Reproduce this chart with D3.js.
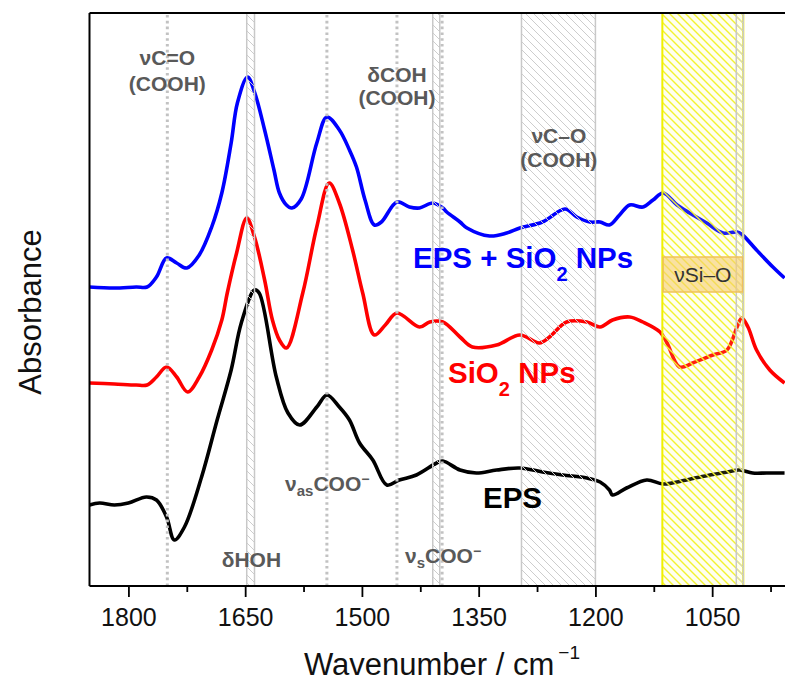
<!DOCTYPE html>
<html>
<head>
<meta charset="utf-8">
<script src="https://cdn.jsdelivr.net/npm/d3@7"></script>
<style>
  body { margin: 0; background: #fff; }
  svg { display: block; font-family: Arial, "Liberation Sans", sans-serif; }
</style>
</head>
<body>
<svg id="chart" width="785" height="684"></svg>
<script>
// wavenumber (cm-1), absorbance (a.u., offset stacked)
const epsSio2 = [
  [1850, 2.99], [1818, 2.98], [1790, 2.99], [1776, 2.99], [1764, 3.09], [1751, 3.28],
  [1738, 3.23], [1725, 3.18], [1709, 3.31], [1693, 3.59], [1680, 3.93], [1668, 4.43],
  [1660, 4.83], [1647, 5.09], [1638, 4.94], [1625, 4.56], [1613, 4.16], [1606, 3.93],
  [1597, 3.81], [1590, 3.78], [1578, 3.87], [1558, 4.43], [1545, 4.69],
  [1529, 4.56], [1516, 4.36], [1507, 4.19], [1496, 3.86], [1484, 3.61], [1475, 3.64],
  [1455, 3.84], [1439, 3.79], [1426, 3.78], [1409, 3.83], [1396, 3.78], [1391, 3.74],
  [1374, 3.64], [1365, 3.58], [1336, 3.50], [1314, 3.53], [1297, 3.58], [1268, 3.64],
  [1239, 3.77], [1224, 3.69], [1207, 3.64], [1194, 3.64], [1182, 3.61], [1169, 3.71],
  [1156, 3.81], [1139, 3.79], [1126, 3.86], [1113, 3.93], [1095, 3.81], [1079, 3.73],
  [1057, 3.63], [1036, 3.53], [1018, 3.54], [1011, 3.51], [993, 3.36], [972, 3.19], [957, 3.08]
];

const sio2 = [
  [1850, 2.03], [1818, 2.02], [1790, 2.01], [1776, 2.01], [1764, 2.09], [1751, 2.19],
  [1738, 2.09], [1724, 1.94], [1709, 2.09], [1693, 2.36], [1680, 2.66], [1673, 2.93],
  [1661, 3.33], [1648, 3.68], [1638, 3.49], [1625, 3.06], [1615, 2.66], [1606, 2.46],
  [1597, 2.38], [1576, 2.93], [1558, 3.59], [1542, 4.03], [1529, 3.83], [1512, 3.36],
  [1499, 2.93], [1484, 2.51], [1470, 2.61], [1455, 2.73], [1426, 2.59], [1413, 2.64],
  [1396, 2.64], [1374, 2.49], [1358, 2.39], [1327, 2.41], [1297, 2.51], [1272, 2.43],
  [1259, 2.49], [1237, 2.64], [1211, 2.64], [1194, 2.59], [1178, 2.66], [1156, 2.69],
  [1139, 2.64], [1117, 2.54], [1108, 2.43], [1092, 2.19], [1075, 2.23], [1049, 2.31],
  [1031, 2.36], [1018, 2.59], [1012, 2.68], [1004, 2.59], [993, 2.36], [976, 2.16], [957, 2.03]
];

const eps = [
  [1850, 0.81], [1837, 0.83], [1818, 0.81], [1800, 0.83], [1777, 0.89], [1764, 0.86],
  [1751, 0.69], [1741, 0.46], [1728, 0.59], [1706, 1.09], [1686, 1.66], [1668, 2.16],
  [1655, 2.63], [1638, 2.96], [1632, 2.93], [1610, 2.09], [1595, 1.73], [1580, 1.61],
  [1558, 1.79], [1545, 1.91], [1529, 1.79], [1516, 1.66], [1503, 1.43], [1486, 1.26],
  [1468, 1.01], [1452, 1.06], [1430, 1.11], [1404, 1.23], [1396, 1.25], [1374, 1.16],
  [1353, 1.13], [1327, 1.16], [1297, 1.18], [1268, 1.14], [1242, 1.11], [1211, 1.08],
  [1194, 1.04], [1182, 0.96], [1178, 0.91], [1160, 0.98], [1134, 1.06], [1113, 1.02],
  [1083, 1.06], [1053, 1.11], [1031, 1.14], [1015, 1.16], [998, 1.13], [980, 1.13], [957, 1.13]
];

const majorTicks = [1800, 1650, 1500, 1350, 1200, 1050];
const minorTicks = [1725, 1575, 1425, 1275, 1125, 975];

// marker lines and hatched bands (cm-1)
const dottedLines = [1750, 1545, 1455, 1397];
const grayBands = [[1648, 1638], [1409, 1400], [1295, 1200], [1019, 1010]];
const yellowBand = [1114, 1010];

const svg = d3.select('#chart');
const x = d3.scaleLinear().domain([1850, 950]).range([89.5, 790]);
const y = d3.scaleLinear().domain([0, 5.73]).range([586, 13]);

const defs = svg.append('defs');
defs.append('clipPath').attr('id', 'plot')
  .append('rect').attr('x', 89.5).attr('y', 13).attr('width', 700.5).attr('height', 573);

function hatch(id, color, width) {
  const p = defs.append('pattern').attr('id', id)
    .attr('patternUnits', 'userSpaceOnUse').attr('width', 8).attr('height', 8);
  p.append('path').attr('d', 'M-2,-2L10,10M-2,6L2,10M6,-2L10,2')
    .attr('stroke', color).attr('stroke-width', width);
}
hatch('hGray', '#cdcdcd', 1);
hatch('hYellow', '#f2f230', 1.4);

const line = d3.line()
  .x(d => x(d[0]))
  .y(d => y(d[1]))
  .curve(d3.curveCatmullRom.alpha(0.5));

const plot = svg.append('g').attr('clip-path', 'url(#plot)');

plot.selectAll('path.spec')
  .data([
    { d: eps, c: '#000000' },
    { d: sio2, c: '#ff0000' },
    { d: epsSio2, c: '#0000ff' }
  ])
  .join('path')
  .attr('class', 'spec')
  .attr('d', s => line(s.d))
  .attr('fill', 'none')
  .attr('stroke', s => s.c)
  .attr('stroke-width', 3.6)
  .attr('stroke-linejoin', 'round');

// yellow band
plot.append('rect')
  .attr('x', x(yellowBand[0])).attr('y', 13)
  .attr('width', x(yellowBand[1]) - x(yellowBand[0])).attr('height', 573)
  .attr('fill', 'rgba(255,255,120,0.12)');
plot.append('rect')
  .attr('x', x(yellowBand[0])).attr('y', 13)
  .attr('width', x(yellowBand[1]) - x(yellowBand[0])).attr('height', 573)
  .attr('fill', 'url(#hYellow)')
  .attr('stroke', '#f0f000').attr('stroke-width', 2);

// gray hatched bands
plot.selectAll('rect.gb')
  .data(grayBands)
  .join('rect')
  .attr('class', 'gb')
  .attr('x', d => x(d[0])).attr('y', 13)
  .attr('width', d => x(d[1]) - x(d[0])).attr('height', 573)
  .attr('fill', 'url(#hGray)')
  .attr('stroke', '#c8c8c8').attr('stroke-width', 1.5);

// dotted marker lines
plot.selectAll('line.dot')
  .data(dottedLines)
  .join('line')
  .attr('class', 'dot')
  .attr('x1', d => x(d)).attr('x2', d => x(d))
  .attr('y1', 15).attr('y2', 586)
  .attr('stroke', '#c2c2c2').attr('stroke-width', 3)
  .attr('stroke-dasharray', '2.6,3.2');

// νSi–O box
const boxX0 = x(1113), boxX1 = x(1011);
svg.append('rect')
  .attr('x', boxX0).attr('y', 257).attr('width', boxX1 - boxX0).attr('height', 35)
  .attr('fill', 'rgba(245,205,110,0.6)')
  .attr('stroke', '#efc25a').attr('stroke-width', 1.5);
svg.append('text')
  .attr('x', (boxX0 + boxX1) / 2).attr('y', 282)
  .attr('text-anchor', 'middle')
  .attr('font-size', 21).attr('fill', '#333')
  .text('νSi–O');

// frame and axes
const frame = svg.append('g').attr('stroke', '#000').attr('stroke-width', 2).attr('fill', 'none');
frame.append('line').attr('x1', 89.5).attr('x2', 790).attr('y1', 13).attr('y2', 13);
frame.append('line').attr('x1', 89.5).attr('x2', 790).attr('y1', 586).attr('y2', 586);
frame.append('line').attr('x1', 89.5).attr('x2', 89.5).attr('y1', 13).attr('y2', 586);

const xAxis = svg.append('g')
  .attr('transform', 'translate(0,586)')
  .call(d3.axisBottom(x).tickValues(majorTicks).tickSize(11).tickPadding(11).tickFormat(d3.format('d')));
xAxis.select('.domain').remove();
xAxis.selectAll('line').attr('stroke-width', 1.8);
xAxis.selectAll('text').attr('font-size', 25).attr('fill', '#111')
  .attr('font-family', 'Arial, "Liberation Sans", sans-serif');

const xMinor = svg.append('g')
  .attr('transform', 'translate(0,586)')
  .call(d3.axisBottom(x).tickValues(minorTicks).tickSize(6).tickFormat(''));
xMinor.select('.domain').remove();
xMinor.selectAll('line').attr('stroke-width', 1.8);

// axis titles
const xt = svg.append('text')
  .attr('x', 442).attr('y', 675)
  .attr('text-anchor', 'middle')
  .attr('font-size', 31).attr('fill', '#111');
xt.append('tspan').text('Wavenumber / cm');
xt.append('tspan').attr('font-size', 19).attr('dx', 4).attr('dy', -16).text('−1');

svg.append('text')
  .attr('transform', 'translate(41,312) rotate(-90)')
  .attr('text-anchor', 'middle')
  .attr('font-size', 31).attr('fill', '#111')
  .text('Absorbance');

// band annotations
const ann = svg.append('g')
  .attr('font-weight', 'bold').attr('fill', '#595959').attr('font-size', 21)
  .attr('text-anchor', 'middle');
[
  { w: 1750, y: 65, t: 'νC=O' }, { w: 1750, y: 91, t: '(COOH)' },
  { w: 1455, y: 82, t: 'δCOH' }, { w: 1455, y: 105, t: '(COOH)' },
  { w: 1247, y: 143, t: 'νC–O' }, { w: 1247, y: 167, t: '(COOH)' },
  { w: 1642, y: 567, t: 'δHOH' }
].forEach(a => ann.append('text').attr('x', x(a.w)).attr('y', a.y).text(a.t));

function subLabel(x0, y0, sub) {
  const t = svg.append('text')
    .attr('x', x0).attr('y', y0)
    .attr('font-weight', 'bold').attr('fill', '#595959').attr('font-size', 21);
  t.append('tspan').text('ν');
  t.append('tspan').attr('font-size', 15).attr('dy', 5).text(sub);
  t.append('tspan').attr('dy', -5).text('COO');
  t.append('tspan').attr('font-size', 14).attr('dy', -7).text('−');
}
subLabel(285, 491, 'as');
subLabel(405, 563, 's');

// series labels
function seriesLabel(x0, y0, color, parts) {
  const t = svg.append('text')
    .attr('x', x0).attr('y', y0)
    .attr('font-weight', 'bold').attr('fill', color).attr('font-size', 29.5);
  parts.forEach(p => {
    const s = t.append('tspan').text(p.t);
    if (p.sub) s.attr('font-size', 20).attr('dy', 13);
    if (p.back) s.attr('dy', -13);
  });
}
seriesLabel(413, 268, '#0000ff', [{ t: 'EPS + SiO' }, { t: '2', sub: true }, { t: ' NPs', back: true }]);
seriesLabel(448, 383, '#ff0000', [{ t: 'SiO' }, { t: '2', sub: true }, { t: ' NPs', back: true }]);
seriesLabel(483, 508, '#000000', [{ t: 'EPS' }]);
</script>
</body>
</html>
